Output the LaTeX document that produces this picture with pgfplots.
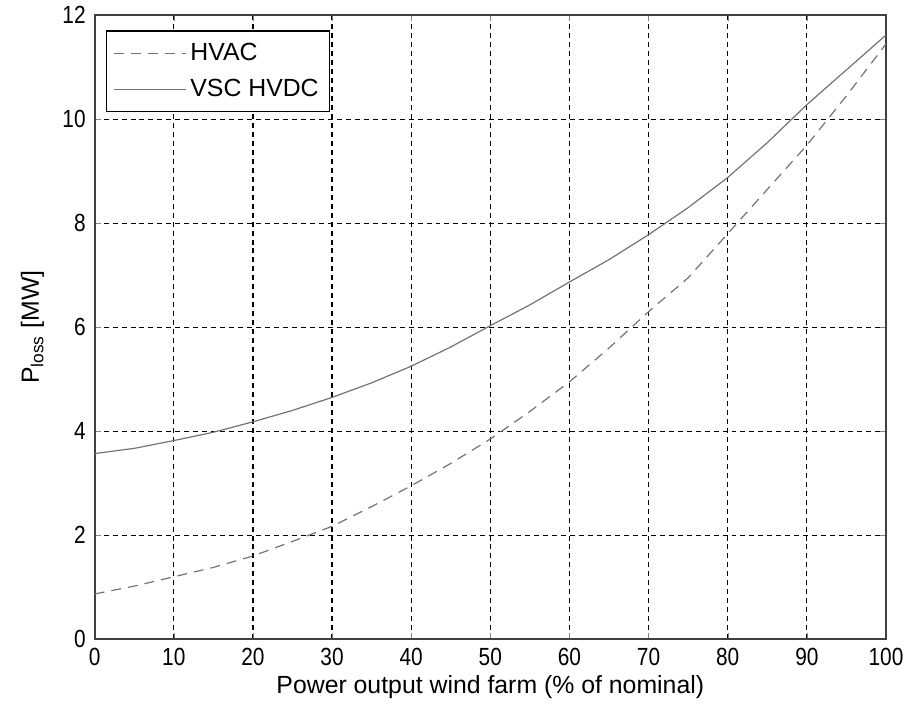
\documentclass[border=0pt]{standalone}
\usepackage{fontspec}
\setmainfont{Liberation Sans}
\newfontfamily\tickfont{Liberation Sans}[FakeStretch=0.84]
\usepackage{pgfplots}
\pgfplotsset{compat=1.18}

\begin{document}
\begin{tikzpicture}[font=\fontsize{12.5}{14}\selectfont]
\begin{axis}[
    scale only axis,
    width=397bp, height=313bp,
    xmin=0, xmax=100, ymin=0, ymax=12,
    xtick={0,10,...,100}, ytick={0,2,...,12},
    /pgf/number format/assume math mode=true,
    ticklabel style={font=\tickfont\fontsize{12.5}{14}\selectfont},
    tick align=inside, tick pos=both,
    major tick length=3bp,
    grid=major,
    major grid style={black, dash pattern=on 2.5bp off 2bp, line width=0.6pt},
    axis line style={black!75, line width=0.9pt},
    xlabel={Power output wind farm (\% of nominal)},
    ylabel={P\textsubscript{loss} [MW]},
    xlabel style={yshift=2bp},
    ylabel style={inner ysep=10.5bp, yshift=-4.8bp},
    yticklabel style={xshift=-1bp},
    xticklabel style={yshift=-1bp},
    legend style={at={(0.014,0.976)}, anchor=north west, draw=black, line width=0.8pt,
        fill=white, inner xsep=3.5bp, inner ysep=4bp, row sep=4bp},
    legend cell align=left,
    legend image code/.code={\draw[#1] (0cm,0cm) -- (1.27cm,0cm);},
]
\addplot[black!55, dash pattern=on 5bp off 3.5bp, line width=0.6pt] coordinates {
(0,0.87) (5,1.02) (10,1.2) (15,1.38) (20,1.6) (25,1.88) (30,2.17) (35,2.55) (40,2.95)
(45,3.38) (50,3.85) (55,4.38) (60,4.95) (65,5.6) (70,6.3) (75,6.95) (80,7.8)
(85,8.65) (90,9.5) (95,10.45) (100,11.45)};
\addlegendentry{HVAC}
\addplot[black!55, solid, line width=0.6pt] coordinates {
(0,3.57) (5,3.67) (10,3.82) (15,3.98) (20,4.18) (25,4.4) (30,4.65) (35,4.93) (40,5.25)
(45,5.62) (50,6.03) (55,6.43) (60,6.87) (65,7.3) (70,7.78) (75,8.3) (80,8.88)
(85,9.55) (90,10.28) (95,10.95) (100,11.62)};
\addlegendentry{VSC HVDC}
\end{axis}
\end{tikzpicture}
\end{document}
